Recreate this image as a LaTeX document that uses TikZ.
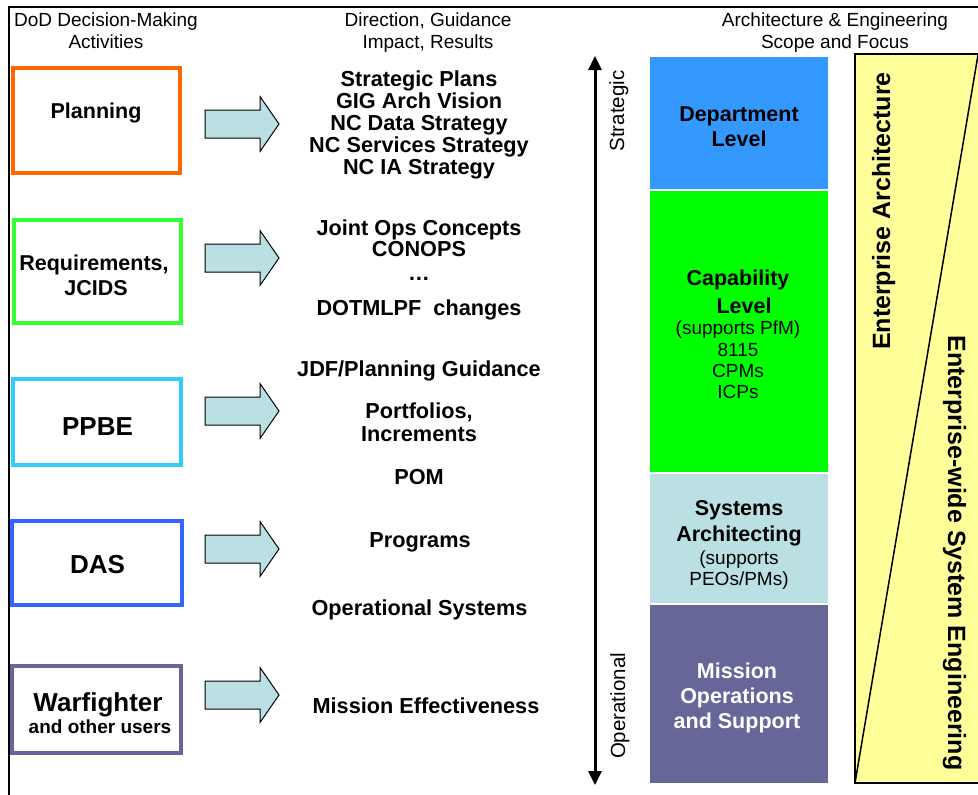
\documentclass[tikz,border=0pt]{standalone}
\usepackage{fontspec}
\setmainfont{Liberation Sans}
\usetikzlibrary{arrows.meta}
\definecolor{cOrange}{HTML}{FF6600}
\definecolor{cGreenB}{HTML}{33FF33}
\definecolor{cCyanB}{HTML}{33CCFF}
\definecolor{cBlueB}{HTML}{3366FF}
\definecolor{cPurple}{HTML}{666699}
\definecolor{cArrow}{HTML}{BBE0E3}
\definecolor{cDept}{HTML}{3399FF}
\definecolor{cCap}{HTML}{00FF00}
\definecolor{cYellow}{HTML}{FFFF99}
\begin{document}
\begin{tikzpicture}[x=1pt,y=-1pt,
  actbox/.style={draw, line width=4pt, fill=white, inner sep=0pt, outer sep=0pt},
  hdr/.style={font=\fontsize{19}{22}\selectfont, anchor=base, inner sep=0pt},
  mid/.style={font=\fontsize{21.7}{22}\selectfont\bfseries, anchor=base, inner sep=0pt},
  actlab/.style={font=\fontsize{21.5}{24}\selectfont\bfseries, anchor=base, inner sep=0pt},
  biglab/.style={font=\fontsize{26}{28}\selectfont\bfseries, anchor=base, inner sep=0pt},
  blab/.style={font=\fontsize{21.5}{25}\selectfont\bfseries, anchor=base, inner sep=0pt},
  bsmall/.style={font=\fontsize{19}{21}\selectfont, anchor=base, inner sep=0pt},
  vlab/.style={font=\fontsize{20.5}{22}\selectfont, anchor=base, inner sep=0pt, rotate=90},
  ealab/.style={font=\fontsize{25}{27}\selectfont\bfseries, anchor=base, inner sep=0pt},
  fat/.style={draw=black, line width=1pt, fill=cArrow, line join=miter},
]
\useasboundingbox (0,0) rectangle (978,795);
% outer frame
\draw[line width=1.5pt] (978,7) -- (9,7) -- (9,795);

% headers
\node[hdr] (h1a) at (106,27) {DoD Decision-Making};
\node[hdr] (h1b) at (106,48) {Activities};
\node[hdr] (h2a) at (428,27) {Direction, Guidance};
\node[hdr] (h2b) at (428,48) {Impact, Results};
\node[hdr] (h3a) at (835,27) {Architecture \& Engineering};
\node[hdr] (h3b) at (835,48) {Scope and Focus};

% activity boxes
\node[actbox, draw=cOrange, minimum width=167pt, minimum height=105pt] (plan) at (96.5,120.5) {};
\node[actbox, draw=cGreenB, minimum width=167pt, minimum height=103pt] (req) at (97.5,271.5) {};
\node[actbox, draw=cCyanB, minimum width=168pt, minimum height=86pt] (ppbe) at (97,422) {};
\node[actbox, draw=cBlueB, minimum width=170pt, minimum height=84pt] (das) at (97,563) {};
\node[actbox, draw=cPurple, minimum width=169pt, minimum height=87pt] (war) at (96.5,709.5) {};

\node[actlab] (planT) at (96,118) {Planning};
\node[actlab] (reqT1) at (94,270) {Requirements,};
\node[actlab] (reqT2) at (96,295) {JCIDS};
\node[biglab] (ppbeT) at (97.5,435) {PPBE};
\node[biglab] (dasT) at (97.5,573) {DAS};
\node[biglab] (warT1) at (98,711) {Warfighter};
\node[font=\fontsize{19}{21}\selectfont\bfseries, anchor=base, inner sep=0pt] (warT2) at (100,733) {and other users};

% block arrows
\foreach \n/\cy in {a1/124, a2/258, a3/411, a4/549, a5/695}{
  \draw[fat] (205,\cy-14) -- (260,\cy-14) -- (260,\cy-27.5) -- (279,\cy)
     -- (260,\cy+27.5) -- (260,\cy+14) -- (205,\cy+14) -- cycle;
}

% middle texts
\node[mid] (m1) at (419,86.5) {Strategic Plans};
\node[mid] (m2) at (419,108.5) {GIG Arch Vision};
\node[mid] (m3) at (419,130.5) {NC Data Strategy};
\node[mid] (m4) at (419,152.5) {NC Services Strategy};
\node[mid] (m5) at (419,174) {NC IA Strategy};
\node[mid] (m6) at (419,235) {Joint Ops Concepts};
\node[mid] (m7) at (419,256) {CONOPS};
\node[mid] (m8) at (419,280) {\dots};
\node[mid] (m9) at (419,315) {DOTMLPF\ \ changes};
\node[mid] (m10) at (419,376) {JDF/Planning Guidance};
\node[mid] (m11) at (419,418) {Portfolios,};
\node[mid] (m12) at (419,441) {Increments};
\node[mid] (m13) at (419,484) {POM};
\node[mid] (m14) at (420,547) {Programs};
\node[mid] (m15) at (419.5,615) {Operational Systems};
\node[mid] (m16) at (426,713) {Mission Effectiveness};

% vertical double arrow
\coordinate (vtop) at (595,56);
\coordinate (vbot) at (595,785);
\draw[line width=3pt, {Triangle[width=13pt,length=14pt]}-{Triangle[width=13pt,length=14pt]}] (vtop) -- (vbot);
\node[vlab] (strat) at (624,111) {Strategic};
\node[vlab] (oper) at (625,706) {Operational};

% colored blocks
\fill[cDept] (650,57) rectangle (828,189);
\fill[cCap] (650,191) rectangle (828,472);
\fill[cArrow] (650,474) rectangle (828,603);
\fill[cPurple] (650,605) rectangle (828,783);
\node[blab] (d1) at (739,121) {Department};
\node[blab] (d2) at (739,146) {Level};
\node[blab] (c1) at (738,285) {Capability};
\node[blab] (c2) at (744,313) {Level};
\node[bsmall] (c3) at (738,334) {(supports PfM)};
\node[bsmall] (c4) at (738,356) {8115};
\node[bsmall] (c5) at (738,377) {CPMs};
\node[bsmall] (c6) at (738,398) {ICPs};
\node[blab] (s1) at (739,515) {Systems};
\node[blab] (s2) at (739,541) {Architecting};
\node[bsmall] (s3) at (739,564) {(supports};
\node[bsmall] (s4) at (739,585) {PEOs/PMs)};
\node[blab, text=white] (o1) at (737,678) {Mission};
\node[blab, text=white] (o2) at (737,703) {Operations};
\node[blab, text=white] (o3) at (737,728) {and Support};

% yellow scope box
\fill[cYellow] (855,54) rectangle (985,783);
\draw[line width=2pt] (985,54) -- (855,54) -- (855,783) -- (985,783);
\draw[line width=1.5pt] (855,783) -- (978,55);
\node[ealab, rotate=90] (ea) at (890,211) {Enterprise Architecture};
\node[ealab, rotate=-90] (ese) at (948,553) {Enterprise-wide System Engineering};
\end{tikzpicture}
\end{document}
